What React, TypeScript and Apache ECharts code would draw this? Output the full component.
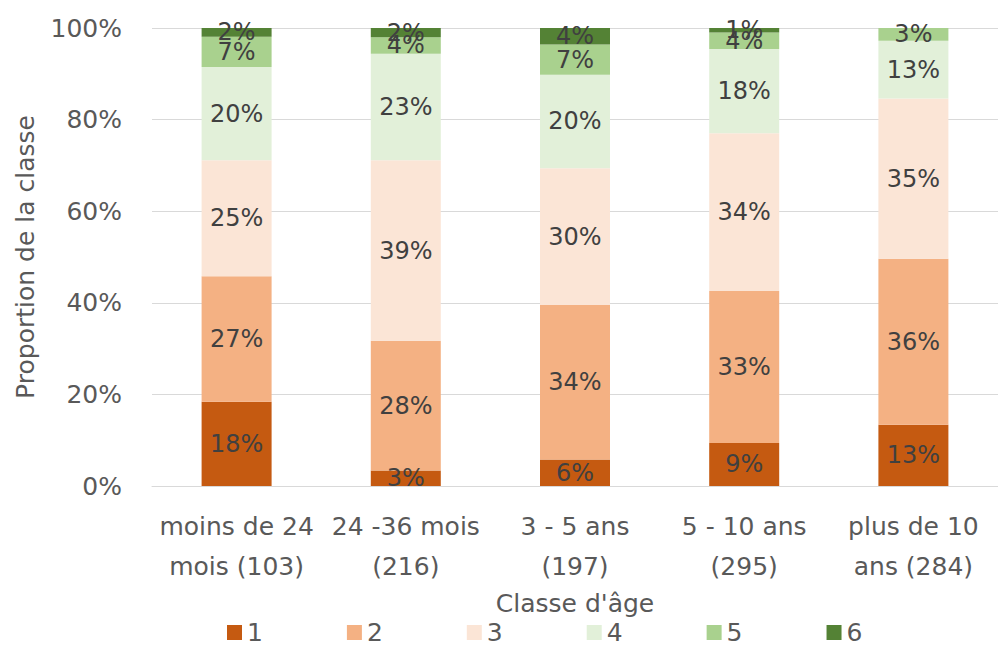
import React, { useEffect, useRef } from "react";
import * as echarts from "echarts";

// Age classes (with sample size) and the share of each score 1..6, in percent
const categories = [
  "moins de 24\nmois (103)",
  "24 -36 mois\n(216)",
  "3 - 5 ans\n(197)",
  "5 - 10 ans\n(295)",
  "plus de 10\nans (284)",
];
const score1 = [18.4, 3.4, 5.8, 9.4, 13.4];
const score2 = [27.4, 28.3, 33.7, 33.2, 36.2];
const score3 = [25.3, 39.4, 29.9, 34.4, 35.0];
const score4 = [20.4, 23.3, 20.4, 18.4, 12.6];
const score5 = [6.6, 3.6, 6.6, 3.6, 2.8];
const score6 = [1.9, 2.0, 3.6, 1.0, 0];

const seriesNames = ["1", "2", "3", "4", "5", "6"];
const seriesData = [score1, score2, score3, score4, score5, score6];
const seriesColors = ["#C55A11", "#F4B183", "#FBE5D6", "#E2F0D9", "#A9D18E", "#548235"];

const FONT = "'DejaVu Sans', 'Open Sans', sans-serif";
const AXIS_GREY = "#595959";

export default function App() {
  const ref = useRef<HTMLDivElement>(null);

  useEffect(() => {
    if (!ref.current) return;
    const chart = echarts.init(ref.current, null, { renderer: "svg" });
    chart.setOption({
      animation: false,
      backgroundColor: "#ffffff",
      textStyle: { fontFamily: FONT },
      grid: { left: 152, top: 28, height: 458, width: 860 },
      legend: {
        bottom: 2,
        left: 222,
        icon: "rect",
        itemWidth: 15,
        itemHeight: 15,
        itemGap: 84,
        textStyle: { fontFamily: FONT, fontSize: 25, color: AXIS_GREY },
        data: seriesNames,
      },
      xAxis: {
        type: "category",
        data: categories,
        name: "Classe d'âge",
        nameLocation: "middle",
        nameGap: 104,
        nameTextStyle: { fontFamily: FONT, fontSize: 25, color: AXIS_GREY },
        axisLine: { lineStyle: { color: "#d9d9d9" } },
        axisTick: { show: false },
        axisLabel: {
          fontFamily: FONT,
          fontSize: 25,
          color: AXIS_GREY,
          lineHeight: 40,
          margin: 20,
          interval: 0,
        },
      },
      yAxis: {
        type: "value",
        min: 0,
        max: 100,
        interval: 20,
        name: "Proportion de la classe",
        nameLocation: "middle",
        nameGap: 114,
        nameTextStyle: { fontFamily: FONT, fontSize: 25, color: AXIS_GREY },
        axisLine: { show: false },
        axisTick: { show: false },
        axisLabel: {
          formatter: "{value}%",
          fontFamily: FONT,
          fontSize: 25,
          color: AXIS_GREY,
          margin: 30,
        },
        splitLine: { lineStyle: { color: "#d9d9d9", width: 1 } },
      },
      series: seriesNames.map((name, i) => ({
        name,
        type: "bar",
        stack: "total",
        barWidth: 70,
        data: seriesData[i],
        itemStyle: { color: seriesColors[i] },
        label: {
          show: true,
          position: "inside",
          fontFamily: FONT,
          fontSize: 24,
          color: "#404040",
          formatter: (p: any) => (p.value >= 0.5 ? `${Math.round(p.value)}%` : ""),
        },
      })),
    });
    return () => chart.dispose();
  }, []);

  return (
    <div
      ref={ref}
      style={{ position: "absolute", left: 0, top: 0, width: 998, height: 652 }}
    />
  );
}
